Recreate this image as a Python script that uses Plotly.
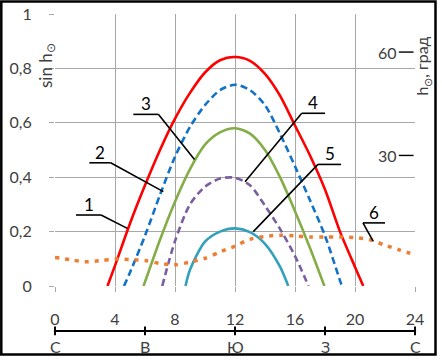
import plotly.graph_objects as go

# ---------------- data ----------------
hours1 = [3.5, 4, 5, 6, 7, 8, 9, 10, 11, 12, 13, 14, 15, 16, 17, 18, 19, 20, 20.55]
sin1 = [0, 0.075, 0.23, 0.37, 0.5, 0.615, 0.71, 0.785, 0.83, 0.842, 0.828, 0.78, 0.70, 0.59, 0.48, 0.355, 0.2, 0.07, 0]

hours2 = [4.6, 5, 6, 7, 8, 9, 10, 11, 12, 13, 14, 15, 16, 17, 18, 19, 19.13]
sin2 = [0, 0.05, 0.185, 0.335, 0.475, 0.585, 0.665, 0.72, 0.74, 0.72, 0.665, 0.56, 0.44, 0.315, 0.185, 0.02, 0]

hours3 = [5.9, 6, 7, 8, 9, 10, 11, 12, 13, 14, 15, 16, 17, 17.96]
sin3 = [0, 0.015, 0.17, 0.31, 0.43, 0.52, 0.565, 0.58, 0.56, 0.5, 0.4, 0.275, 0.14, 0]

hours4 = [7.15, 8, 9, 10, 11, 12, 13, 14, 15, 16, 16.9]
sin4 = [0, 0.165, 0.3, 0.365, 0.395, 0.398, 0.37, 0.295, 0.21, 0.11, 0]

hours5 = [8.7, 9, 10, 11, 12, 13, 14, 15, 15.55]
sin5 = [0, 0.06, 0.163, 0.2, 0.212, 0.198, 0.155, 0.071, 0]

hours6 = list(range(0, 25))
sin6 = [0.105, 0.097, 0.089, 0.093, 0.099, 0.097, 0.094, 0.083, 0.078, 0.088, 0.102, 0.125,
        0.147, 0.172, 0.182, 0.187, 0.184, 0.180, 0.180, 0.180, 0.178, 0.170, 0.150, 0.132, 0.114]

x_ticks = [0, 4, 8, 12, 16, 20, 24]
y_ticks = [0, 0.2, 0.4, 0.6, 0.8, 1]
y_tick_text = ["0", "0,2", "0,4", "0,6", "0,8", "1"]

deg_ticks = ["60", "30"]
deg_tick_pos = [0.86, 0.48]

compass_hours = [0, 6, 12, 18, 24]
compass_text = ["С", "В", "Ю", "З", "С"]

curve_labels = ["1", "2", "3", "4", "5", "6"]
# leader: (segment x0, segment x1, segment y, end-x, end-y, side where diagonal starts)
leaders = [
    (1.4, 3.07, 0.261, 4.82, 0.212, "r"),
    (2.29, 3.71, 0.453, 7.22, 0.347, "r"),
    (5.22, 6.89, 0.631, 9.3, 0.465, "r"),
    (16.45, 18.0, 0.635, 12.67, 0.383, "l"),
    (17.53, 19.07, 0.447, 13.22, 0.2, "l"),
    (20.53, 22.0, 0.232, 21.22, 0.164, "l"),
]

FONT = "Lato, 'Open Sans', sans-serif"
TXT = "#404040"
GRID = "#A8A8A8"

series = [
    (hours1, sin1, "#FF0000", "solid", 2.6),
    (hours2, sin2, "#1272C6", "7px,4px", 2.6),
    (hours3, sin3, "#84AD48", "solid", 2.6),
    (hours4, sin4, "#7B5E9F", "7px,4px", 2.6),
    (hours5, sin5, "#33A1B9", "solid", 2.6),
    (hours6, sin6, "#ED7D31", "4px,6px", 3.5),
]

fig = go.Figure()
for hx, hy, col, dash, w in series:
    fig.add_trace(go.Scatter(x=hx, y=hy, mode="lines",
                             line=dict(color=col, dash=dash, width=w, shape="spline", smoothing=0.8),
                             showlegend=False, hoverinfo="skip", cliponaxis=False))

shapes = []
annotations = []

# leader lines + labels
for lab, (sx0, sx1, sy, ex, ey, side) in zip(curve_labels, leaders):
    shapes.append(dict(type="line", xref="x", yref="y", x0=sx0, x1=sx1, y0=sy, y1=sy,
                       line=dict(color="black", width=1.6)))
    start = sx1 if side == "r" else sx0
    shapes.append(dict(type="line", xref="x", yref="y", x0=start, x1=ex, y0=sy, y1=ey,
                       line=dict(color="black", width=1.6)))
    annotations.append(dict(x=(sx0 + sx1) / 2, y=sy, xref="x", yref="y", text=lab,
                            showarrow=False, yanchor="bottom", yshift=-2,
                            font=dict(family=FONT, size=17, color="black")))

# right-hand degree scale
for t, v in zip(deg_ticks, deg_tick_pos):
    annotations.append(dict(x=0.955, y=v, xref="paper", yref="paper", text=t, showarrow=False,
                            xanchor="right", yanchor="middle",
                            font=dict(family=FONT, size=16, color=TXT)))
    shapes.append(dict(type="line", xref="paper", yref="paper", x0=0.955, x1=0.996, y0=v, y1=v,
                       line=dict(color="black", width=1.4)))

annotations.append(dict(x=1.022, y=0.81, xref="paper", yref="paper", text="h<sub>⊙</sub>, град",
                        showarrow=False, textangle=-90, xanchor="center", yanchor="middle",
                        font=dict(family=FONT, size=16, color=TXT)))
annotations.append(dict(x=-0.024, y=0.81, xref="paper", yref="paper", text="sin h<sub>⊙</sub>",
                        showarrow=False, textangle=-90, xanchor="center", yanchor="middle",
                        font=dict(family=FONT, size=17, color=TXT)))
annotations.append(dict(x=21.2, y=-0.052, xref="x", yref="y", text="Время, ч",
                        showarrow=False, xanchor="center", yanchor="middle",
                        font=dict(family=FONT, size=16, color=TXT)))

# compass scale
cy = -0.165
shapes.append(dict(type="line", xref="paper", yref="paper", x0=-0.003, x1=1.003, y0=cy, y1=cy,
                   line=dict(color="black", width=2)))
for h, t in zip(compass_hours, compass_text):
    shapes.append(dict(type="line", xref="paper", yref="paper", x0=h / 24, x1=h / 24,
                       y0=cy - 0.016, y1=cy + 0.016, line=dict(color="black", width=2)))
    annotations.append(dict(x=h / 24, y=-0.224, xref="paper", yref="paper", text=t,
                            showarrow=False, xanchor="center", yanchor="middle",
                            font=dict(family=FONT, size=16, color=TXT)))

# outer frame
shapes.append(dict(type="rect", xref="paper", yref="paper",
                   x0=(1.3 - 55) / 360, x1=(435.5 - 55) / 360,
                   y0=(286 - 354.5) / 272, y1=(286 - 1.5) / 272,
                   line=dict(color="black", width=2.5), fillcolor="rgba(0,0,0,0)"))

fig.update_layout(
    width=442, height=362,
    margin=dict(l=55, r=27, t=14, b=76, autoexpand=False),
    paper_bgcolor="white", plot_bgcolor="white",
    font=dict(family=FONT, size=16, color=TXT),
    shapes=shapes, annotations=annotations,
    xaxis=dict(range=[0, 24], tickvals=x_ticks, showgrid=True, gridcolor=GRID, gridwidth=1,
               zeroline=False, showline=False, ticks="outside", ticklen=5, tickcolor=GRID,
               ticklabelstandoff=14, tickfont=dict(family=FONT, size=16, color=TXT)),
    yaxis=dict(range=[0, 1], tickvals=y_ticks, ticktext=y_tick_text, showgrid=True,
               gridcolor=GRID, gridwidth=1, zeroline=False, showline=False,
               ticks="outside", ticklen=5, tickcolor=GRID, ticklabelstandoff=14,
               tickfont=dict(family=FONT, size=16, color=TXT)),
)

fig.write_html("out.html", config={"displayModeBar": False},
               post_script="document.body.style.margin='0';document.body.style.overflow='hidden';")
